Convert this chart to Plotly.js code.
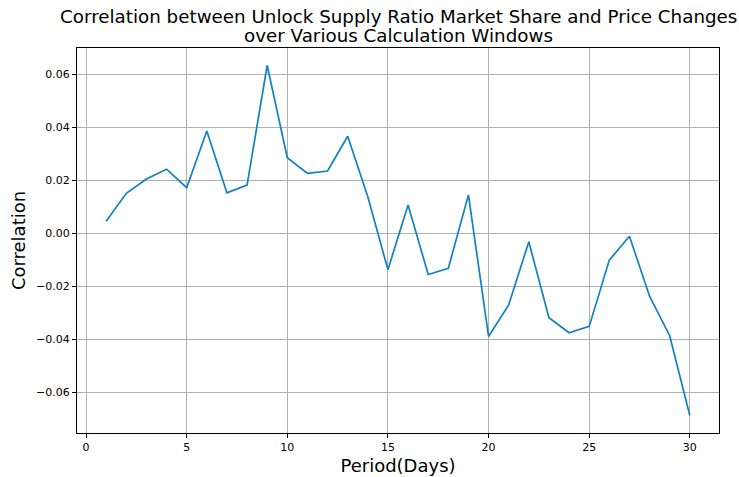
<!DOCTYPE html>
<html>
<head>
<meta charset="utf-8">
<script src="https://cdn.plot.ly/plotly-3.0.1.min.js"></script>
<style>html,body{margin:0;padding:0;background:#fff;}#chart{width:739px;height:477px;}</style>
</head>
<body>
<div id="chart"></div>
<script>
const periods = [1,2,3,4,5,6,7,8,9,10,11,12,13,14,15,16,17,18,19,20,21,22,23,24,25,26,27,28,29,30];
const correlation = [0.0046,0.0151,0.0205,0.0242,0.0172,0.0386,0.0153,0.0182,0.0633,0.0285,0.0226,0.0235,0.0366,0.0138,-0.0137,0.0107,-0.0155,-0.0132,0.0145,-0.0389,-0.0270,-0.0032,-0.0318,-0.0375,-0.0351,-0.0101,-0.0011,-0.0237,-0.0386,-0.0687];
const xTicks = [0,5,10,15,20,25,30];
const yTicks = [-0.06,-0.04,-0.02,0.00,0.02,0.04,0.06];
const yTickText = ['\u22120.06','\u22120.04','\u22120.02','0.00','0.02','0.04','0.06'];
const titleLines = ['Correlation between Unlock Supply Ratio Market Share and Price Changes', 'over Various Calculation Windows'];

const font = 'DejaVu Sans, sans-serif';
const plotH = 477 - 48 - 44;
function titleY(baselinePx, size) {
  const middle = baselinePx - 0.3 * size;
  return 1 + (48 - middle) / plotH;
}
const tSize = 18.3;
Plotly.newPlot('chart', [{
  x: periods, y: correlation, type: 'scatter', mode: 'lines',
  line: {color: '#1380c3', width: 1.7}, hoverinfo: 'x+y'
}], {
  width: 739, height: 477,
  margin: {l: 76.5, r: 20, t: 48, b: 44, pad: 0},
  paper_bgcolor: '#fff', plot_bgcolor: '#fff',
  showlegend: false,
  font: {family: font, color: '#000'},
  annotations: [
    {text: titleLines[0], xref: 'paper', yref: 'paper', x: 0.5, y: titleY(22.3, tSize), xanchor: 'center', yanchor: 'middle', showarrow: false, font: {family: font, size: tSize, color: '#000'}},
    {text: titleLines[1], xref: 'paper', yref: 'paper', x: 0.5, y: titleY(40.7, tSize), xanchor: 'center', yanchor: 'middle', showarrow: false, font: {family: font, size: tSize, color: '#000'}}
  ],
  xaxis: {
    range: [-0.45, 31.45], tickvals: xTicks, ticktext: xTicks.map(String),
    showgrid: true, gridcolor: '#b0b0b0', gridwidth: 1,
    zeroline: false, showline: true, linecolor: '#000', linewidth: 1, mirror: true,
    ticks: 'outside', ticklen: 4, tickwidth: 1, tickcolor: '#000',
    tickfont: {family: font, size: 11, color: '#000'},
    title: {text: 'Period(Days)', font: {family: font, size: 18, color: '#000'}, standoff: 6}
  },
  yaxis: {
    range: [-0.0753, 0.0699], tickvals: yTicks, ticktext: yTickText,
    showgrid: true, gridcolor: '#b0b0b0', gridwidth: 1,
    zeroline: false, showline: true, linecolor: '#000', linewidth: 1, mirror: true,
    ticks: 'outside', ticklen: 4, tickwidth: 1, tickcolor: '#000',
    tickfont: {family: font, size: 11, color: '#000'},
    title: {text: 'Correlation', font: {family: font, size: 18, color: '#000'}, standoff: 5}
  }
}, {displayModeBar: false, staticPlot: true});
</script>
</body>
</html>
